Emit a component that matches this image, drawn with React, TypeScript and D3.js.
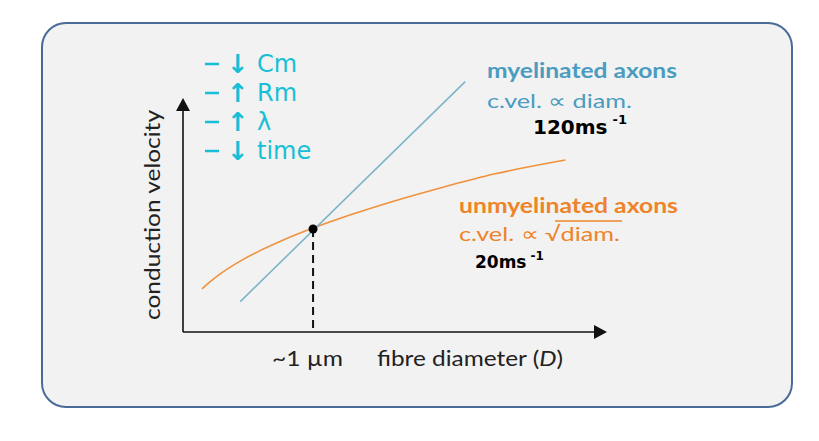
import * as d3 from "d3";

// fibre diameter (µm) and conduction velocity (arbitrary units)
const myelinatedD = [0.44, 2.17];
const myelinatedV = [1.3, 10.7];
const unmyelinatedD = [0.146, 0.2, 0.3, 0.44, 0.6, 0.75, 1.0, 1.3, 1.6, 2.0, 2.4, 2.94];
const unmyelinatedV = [1.84, 2.11, 2.54, 3.03, 3.5, 3.88, 4.44, 5.03, 5.56, 6.19, 6.76, 7.35];
const crossover = { d: 1, v: 4.4 };
const xLabels = ["~1 µm", "fibre diameter ("];
const notes = [
  { arrow: "↓", label: "Cm" },
  { arrow: "↑", label: "Rm" },
  { arrow: "↑", label: "λ" },
  { arrow: "↓", label: "time" },
];

const BLUE = "#7db4c9";
const BLUE_TEXT = "#4a9cc0";
const ORANGE = "#f0913c";
const ORANGE_TEXT = "#ee8429";
const CYAN = "#17bfd6";
const FONT = "Lato, 'Open Sans', sans-serif";

export default function App() {
  const width = 819;
  const height = 441;

  const x = d3.scaleLinear().domain([0, 3.26]).range([183, 607]);
  const y = d3.scaleLinear().domain([0, 10]).range([332, 98]);

  const line = d3
    .line<[number, number]>()
    .x((d) => x(d[0]))
    .y((d) => y(d[1]))
    .curve(d3.curveMonotoneX);

  const blue = myelinatedD.map((d, i) => [d, myelinatedV[i]] as [number, number]);
  const orange = unmyelinatedD.map((d, i) => [d, unmyelinatedV[i]] as [number, number]);

  const x0 = x(0);
  const y0 = y(0);
  const xEnd = x(3.26);
  const yEnd = y(10);

  return (
    <svg
      width={width}
      height={height}
      style={{ position: "absolute", left: 0, top: 0, background: "#fff" }}
    >
      <rect x={42} y={23} width={750} height={384} rx={24} fill="#f2f2f2" stroke="#4a6b98" strokeWidth={2} />

      {/* axes */}
      <line x1={x0} y1={y0} x2={x0} y2={yEnd + 10} stroke="#111" strokeWidth={1.6} />
      <line x1={x0} y1={y0} x2={xEnd - 10} y2={y0} stroke="#111" strokeWidth={1.6} />
      <path d={`M${x0},${yEnd} L${x0 - 7},${yEnd + 13} L${x0 + 7},${yEnd + 13} Z`} fill="#111" />
      <path d={`M${xEnd},${y0} L${xEnd - 13},${y0 - 7} L${xEnd - 13},${y0 + 7} Z`} fill="#111" />

      {/* curves */}
      <path d={line(orange) ?? ""} fill="none" stroke={ORANGE} strokeWidth={1.6} />
      <path d={line(blue) ?? ""} fill="none" stroke={BLUE} strokeWidth={1.6} />

      <line
        x1={x(crossover.d)}
        y1={y(crossover.v)}
        x2={x(crossover.d)}
        y2={y0}
        stroke="#111"
        strokeWidth={2}
        strokeDasharray="8,5"
      />
      <circle cx={x(crossover.d)} cy={y(crossover.v)} r={4.5} fill="#000" />

      {/* axis labels */}
      <text
        transform="translate(160,215) rotate(-90)"
        textAnchor="middle"
        fontFamily={FONT}
        fontSize={21}
        fill="#222"
        textLength={210}
        lengthAdjust="spacingAndGlyphs"
      >
        conduction velocity
      </text>
      <text x={272} y={366} fontFamily={FONT} fontSize={21} fill="#222" textLength={71} lengthAdjust="spacingAndGlyphs">
        {xLabels[0]}
      </text>
      <text x={377} y={366} fontFamily={FONT} fontSize={21} fill="#222" textLength={186} lengthAdjust="spacingAndGlyphs">
        {xLabels[1]}
        <tspan fontStyle="italic">D</tspan>)
      </text>

      {/* myelinated */}
      <text x={487} y={78} fontFamily={FONT} fontSize={20} fontWeight="bold" fill={BLUE_TEXT} textLength={190} lengthAdjust="spacingAndGlyphs">
        myelinated axons
      </text>
      <text x={487} y={108} fontFamily={FONT} fontSize={20} fill={BLUE_TEXT} textLength={145} lengthAdjust="spacingAndGlyphs">
        c.vel. ∝ diam.
      </text>
      <text x={533} y={134} fontFamily="'DejaVu Sans', sans-serif" fontSize={20} fontWeight="bold" fill="#000">
        120ms
        <tspan fontSize={13} dy={-10} dx={5}>-1</tspan>
      </text>

      {/* unmyelinated */}
      <text x={459} y={213} fontFamily={FONT} fontSize={20} fontWeight="bold" fill={ORANGE_TEXT} textLength={219} lengthAdjust="spacingAndGlyphs">
        unmyelinated axons
      </text>
      <text x={459} y={241} fontFamily={FONT} fontSize={20} fill={ORANGE_TEXT} textLength={161} lengthAdjust="spacingAndGlyphs">
        c.vel. ∝ √diam.
      </text>
      <line x1={555} y1={221} x2={622} y2={221} stroke={ORANGE_TEXT} strokeWidth={1.4} />
      <text x={475} y={268} fontFamily="'DejaVu Sans', sans-serif" fontSize={17} fontWeight="bold" fill="#000">
        20ms
        <tspan fontSize={12} dy={-8} dx={4}>-1</tspan>
      </text>

      {/* handwritten notes */}
      {notes.map((n, i) => (
        <g key={i} transform={`translate(205,${72 + i * 29})`} fill={CYAN} fontFamily="'DejaVu Sans', sans-serif">
          <line x1={0} y1={-8} x2={14} y2={-8} stroke={CYAN} strokeWidth={2.5} />
          <text x={22} y={1} fontSize={26} fontWeight="bold">{n.arrow}</text>
          <text x={52} y={0} fontSize={24}>{n.label}</text>
        </g>
      ))}
    </svg>
  );
}
